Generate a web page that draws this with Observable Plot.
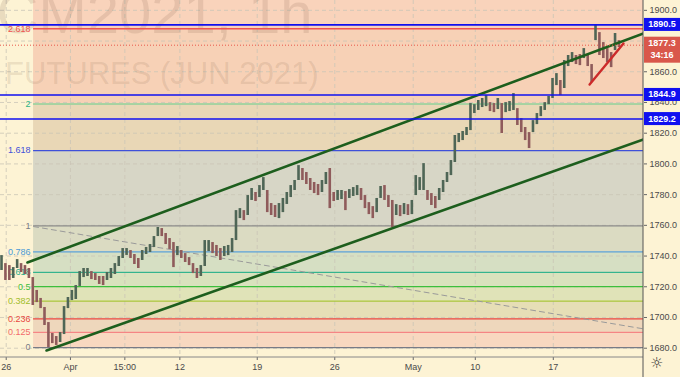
<!DOCTYPE html>
<html><head><meta charset="utf-8">
<script src="https://cdn.jsdelivr.net/npm/d3@7"></script>
<script src="https://cdn.jsdelivr.net/npm/@observablehq/plot@0.6"></script>
<style>
html,body{margin:0;padding:0;background:#fdf3d4;}
#chart svg{display:block;}
</style></head><body><div id="chart"></div>
<script>
// ---- data ----
const barStart = -0.3;   // first bar, trading days after Mar 26
const barStep = 0.25;    // trading days between sampled bars
const barHigh = [1740.3,1735.1,1733.8,1732.5,1737.7,1735.1,1733.8,1731.9,1726.0,1717.6,
1712.4,1706.5,1696.7,1689.6,1687.6,1690.2,1707.1,1713.0,1717.6,1720.8,
1729.9,1731.9,1731.9,1729.9,1728.6,1726.7,1726.7,1729.3,1731.9,1735.1,
1739.7,1744.9,1744.9,1743.6,1741.0,1738.4,1743.6,1745.6,1747.5,1752.7,
1758.6,1757.9,1754.7,1751.4,1748.8,1746.2,1743.6,1741.6,1739.0,1735.1,
1731.9,1733.8,1750.1,1750.1,1748.8,1746.9,1744.9,1746.2,1746.9,1751.4,
1769.6,1770.9,1769.6,1779.4,1784.0,1781.4,1785.9,1791.1,1782.7,1774.2,
1772.9,1774.2,1777.5,1781.4,1785.9,1789.2,1798.9,1797.0,1794.4,1790.5,
1787.9,1786.6,1789.2,1794.4,1797.0,1781.4,1782.7,1782.7,1782.0,1783.3,
1784.6,1785.9,1784.0,1779.4,1774.8,1772.2,1777.5,1785.3,1785.9,1779.4,
1776.2,1773.5,1772.9,1774.2,1773.5,1776.2,1792.4,1791.1,1800.2,1782.7,
1780.7,1778.8,1784.0,1789.2,1794.4,1802.2,1818.5,1819.8,1821.1,1823.7,
1839.3,1838.6,1841.3,1842.6,1844.5,1839.9,1839.3,1842.6,1839.3,1839.9,
1840.6,1845.8,1836.0,1829.5,1823.7,1820.4,1828.2,1832.8,1837.3,1839.9,
1843.9,1855.6,1858.8,1854.3,1867.3,1870.6,1872.5,1870.6,1871.2,1875.1,
1870.6,1864.7,1890.5,1885.5,1879.0,1875.1,1872.5,1884.9,1880.3];
const barLow = [1730.6,1724.1,1724.1,1725.4,1731.9,1729.3,1728.0,1725.4,1707.8,1709.7,
1705.8,1694.8,1680.4,1683.0,1681.8,1683.7,1688.9,1705.8,1711.0,1711.7,
1720.2,1726.0,1726.7,1724.7,1724.1,1721.5,1720.8,1724.1,1725.4,1728.0,
1733.2,1738.4,1740.4,1738.4,1734.5,1731.9,1737.1,1741.0,1742.3,1745.6,
1752.7,1752.7,1747.5,1744.3,1732.5,1740.3,1738.4,1735.8,1733.8,1728.6,
1725.4,1726.7,1733.2,1742.9,1741.6,1739.7,1737.1,1739.7,1740.3,1742.3,
1750.1,1764.4,1763.1,1766.4,1776.2,1775.5,1778.1,1782.7,1768.3,1766.4,
1765.1,1764.4,1768.3,1773.6,1778.1,1782.7,1789.2,1789.2,1786.6,1782.7,
1780.7,1779.4,1781.4,1786.6,1770.9,1775.5,1776.2,1776.8,1769.6,1777.5,
1778.8,1779.4,1776.2,1770.9,1767.0,1764.4,1768.3,1777.5,1776.2,1771.6,
1758.6,1766.4,1765.7,1767.0,1766.4,1767.0,1779.4,1782.7,1782.7,1776.2,
1772.9,1770.9,1776.2,1781.4,1787.9,1792.4,1800.9,1813.9,1815.2,1818.5,
1821.7,1832.8,1834.8,1836.7,1837.3,1834.1,1833.4,1835.4,1819.8,1833.4,
1834.1,1834.8,1825.0,1820.4,1815.2,1810.0,1820.4,1825.6,1830.8,1834.8,
1838.6,1842.6,1851.0,1844.5,1849.1,1863.4,1866.0,1864.7,1864.0,1868.6,
1863.4,1853.0,1880.3,1870.6,1868.6,1866.0,1862.7,1873.8,1875.8];
const lastPrice = 1877.3;
const countdown = "34:16";

const fibLow = 1680.4, fibHigh = 1759.7, fibStart = 1.75;
const fibRatios = [0, 0.125, 0.236, 0.382, 0.5, 0.618, 0.786, 1, 1.618, 2, 2.618];
const fibLabels = ["0", "0.125", "0.236", "0.382", "0.5", "0.618", "0.786", "1", "1.618", "2", "2.618"];

const levelLines = [1890.5, 1844.9, 1829.2];

const upperChannel = [[1.36, 1735.8], [40.77, 1884.9]];
const lowerChannel = [[2.58, 1678.5], [40.77, 1815.9]];
const fibTrend = [[1.75, 1759.2], [40.77, 1692.6]];
const redTrend = [[37.32, 1851.7], [39.49, 1878.4]];

const xTickPos = [0, 4.11, 7.59, 11.11, 16.06, 21.02, 26.04, 30.01, 35.0];
const xTickLabels = ["26", "Apr", "15:00", "12", "19", "26", "May", "10", "17"];
const yTicks = [1680, 1700, 1720, 1740, 1760, 1780, 1800, 1820, 1840, 1860, 1880, 1900];

const xDomain = [-0.365, 40.77];
const yDomain = [1673.95, 1906.4];

const watermark1 = "GCM2021, 1h";
const watermark2 = "GOLD FUTURES (JUN 2021)";

// ---- styles ----
const fibLineColors = ["#787b86", "#f58585", "#e8473f", "#a9c53a", "#3cbf3c", "#34b48e", "#5aa0d8", "#8a8a8a", "#3f51d9", "#8fd09a", "#ef5350"];
const fibLabelColors = ["#787b86", "#f26b6b", "#e8473f", "#a2bd2a", "#3cbf3c", "#2aae8a", "#4a9ad6", "#787b86", "#3f51d9", "#2cb486", "#ef5350"];
const bandFills = ["#f8d8c0", "#eed7bc", "#e6deb6", "#e0e3b8", "#d9e2bd", "#d6dfc3", "#dbdbc2", "#d7d6c6", "#e9d7b6", "#f7d1b6", "#f9d3bb"];

// ---- derived tables ----
const fibPrice = r => fibLow + r * (fibHigh - fibLow);
const levels = fibRatios.map((r, i) => ({price: fibPrice(r), label: fibLabels[i], line: fibLineColors[i], lab: fibLabelColors[i]}));
const bands = levels.map((l, i) => ({
  y1: l.price,
  y2: i < levels.length - 1 ? levels[i + 1].price : yDomain[1],
  fill: bandFills[i]
}));
const bars = barHigh.map((h, i) => {
  const mid = (h + barLow[i]) / 2;
  const prev = i > 0 ? (barHigh[i - 1] + barLow[i - 1]) / 2 : mid;
  return {t: barStart + i * barStep, hi: h, lo: barLow[i], up: mid >= prev};
});
const seg = a => a.map(([t, v]) => ({t, v}));

const gridColor = "#cbc5b6";

const plot = Plot.plot({
  width: 680, height: 377,
  marginLeft: 0, marginRight: 37, marginTop: 0, marginBottom: 20,
  x: {domain: xDomain, axis: null},
  y: {domain: yDomain, axis: null},
  style: {background: "#fdf3d4", fontFamily: "Liberation Sans, Arial, sans-serif", fontSize: "9px", color: "#4a4a4a", overflow: "visible"},
  marks: [
    Plot.rect(bands, {x1: fibStart, x2: xDomain[1], y1: "y1", y2: "y2", fill: "fill"}),
    Plot.ruleX(xTickPos, {stroke: gridColor, strokeDasharray: "4,3", strokeOpacity: 0.8}),
    Plot.ruleY(yTicks, {stroke: gridColor, strokeDasharray: "4,3", strokeOpacity: 0.8}),
    Plot.text([watermark1], {frameAnchor: "top-left", dx: 312, dy: 32, textAnchor: "end", lineAnchor: "bottom", fontSize: 58, fill: "#7a5a40", fillOpacity: 0.15, fontFamily: "Liberation Sans, Arial, sans-serif"}),
    Plot.text([watermark2], {frameAnchor: "top-left", dx: 318, dy: 83, textAnchor: "end", lineAnchor: "bottom", fontSize: 31, fill: "#7a5a40", fillOpacity: 0.15, fontFamily: "Liberation Sans, Arial, sans-serif"}),
    Plot.ruleY(levels, {y: "price", x1: fibStart, x2: xDomain[1], stroke: "line", strokeWidth: 1.3}),
    Plot.text(levels, {x: fibStart, y: "price", text: "label", fill: "lab", textAnchor: "end", dx: -3, fontSize: 9}),
    Plot.line(seg(fibTrend), {x: "t", y: "v", stroke: "#9a9a9a", strokeDasharray: "5,4", strokeWidth: 1}),
    Plot.ruleX(bars, {x: "t", y1: "lo", y2: "hi", stroke: d => d.up ? "#4f6656" : "#8f5b5b", strokeWidth: 2.6}),
    Plot.line(seg(upperChannel), {x: "t", y: "v", stroke: "#1d5e1d", strokeWidth: 2.6, clip: true}),
    Plot.line(seg(lowerChannel), {x: "t", y: "v", stroke: "#1d5e1d", strokeWidth: 2.6, clip: true}),
    Plot.ruleY(levelLines, {stroke: "#1010f0", strokeWidth: 1.6}),
    Plot.ruleY([lastPrice], {stroke: "#e8574a", strokeWidth: 1, strokeDasharray: "1,2"}),
    Plot.line(seg(redTrend), {x: "t", y: "v", stroke: "#cc2a2a", strokeWidth: 2.4}),
    Plot.axisX(xTickPos, {anchor: "bottom", tickSize: 3, tickPadding: 3, tickFormat: d => xTickLabels[xTickPos.indexOf(d)], stroke: "#666", fill: "#4a4a4a", fontSize: 9, label: null}),
    Plot.axisY(yTicks, {anchor: "right", tickSize: 3, tickPadding: 3, tickFormat: d => d.toFixed(1), stroke: "#666", fill: "#4a4a4a", fontSize: 9, label: null}),
    Plot.text(["☼"], {frameAnchor: "bottom-right", dx: 20, dy: 10, fontSize: 15, fill: "#333", fontFamily: "DejaVu Sans"})
  ]
});

document.getElementById("chart").appendChild(plot);

// axis lines and price labels positioned through the plot scales
const xs = plot.scale("x"), ys = plot.scale("y");
const svg = d3.select(plot);
const xr = xs.apply(xDomain[1]);
const yb = ys.apply(yDomain[0]);
svg.append("line").attr("x1", 0).attr("x2", xr).attr("y1", yb).attr("y2", yb).attr("stroke", "#888").attr("stroke-width", 1);
svg.append("line").attr("x1", xr).attr("x2", xr).attr("y1", 0).attr("y2", 377).attr("stroke", "#555").attr("stroke-width", 1);

function priceBox(v, lines, color) {
  const cy = ys.apply(v);
  const h = lines.length === 1 ? 13 : 26;
  const top = lines.length === 1 ? cy - h / 2 : cy - 8;
  const g = svg.append("g");
  g.append("rect").attr("x", xr + 1).attr("y", top).attr("width", 680 - xr - 1).attr("height", h).attr("fill", color);
  lines.forEach((t, i) => {
    g.append("text").attr("x", xr + 19).attr("y", top + 9.5 + i * 12)
      .attr("text-anchor", "middle").attr("fill", "#fff").attr("font-size", 9).attr("font-weight", "bold")
      .attr("font-family", "Liberation Sans, Arial, sans-serif").text(t);
  });
}
levelLines.forEach(v => priceBox(v, [v.toFixed(1)], "#1010f0"));
priceBox(lastPrice, [lastPrice.toFixed(1), countdown], "#d9574b");
</script></body></html>
